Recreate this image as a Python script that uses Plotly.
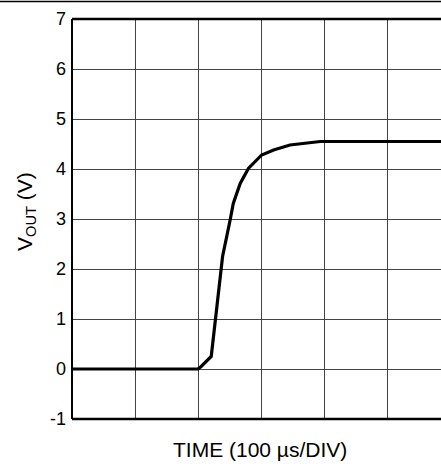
import plotly.graph_objects as go

# Time in divisions (100 us/DIV), Vout in volts
time_div = [0.0, 1.0, 2.0, 2.05, 2.21, 2.30, 2.39, 2.51, 2.56, 2.67, 2.80, 3.01, 3.20, 3.46, 3.94, 4.5, 5.0, 5.86]
vout = [0.0, 0.0, 0.0, 0.05, 0.25, 1.25, 2.25, 2.98, 3.31, 3.71, 4.01, 4.28, 4.38, 4.48, 4.55, 4.55, 4.55, 4.55]

y_ticks = [-1, 0, 1, 2, 3, 4, 5, 6, 7]
y_tick_labels = ["-1", "0", "1", "2", "3", "4", "5", "6", "7"]

fig = go.Figure()
fig.add_trace(go.Scatter(x=time_div, y=vout, mode="lines",
                         line=dict(color="black", width=3.2), showlegend=False))

fig.update_layout(
    width=441, height=464,
    margin=dict(l=72, r=0, t=19, b=45),
    plot_bgcolor="white", paper_bgcolor="white",
    font=dict(family="Liberation Sans, Arial, sans-serif", size=18, color="black"),
)
fig.update_xaxes(range=[0, (441 - 72) / 63], dtick=1, tick0=0, showgrid=True,
                 gridcolor="#444444", gridwidth=1.4, showticklabels=False,
                 zeroline=False, showline=False)
fig.update_yaxes(range=[-1, 7], tickvals=y_ticks, ticktext=y_tick_labels, showgrid=True,
                 gridcolor="#444444", gridwidth=1.4, zeroline=False,
                 showline=False, ticks="", ticklen=0, ticklabelstandoff=5,
                 tickfont=dict(size=18))

fig.add_annotation(text="TIME (100 µs/DIV)", xref="paper", yref="paper",
                   x=(260 - 72) / 369, y=-30 / 400, xanchor="center", yanchor="middle",
                   showarrow=False, font=dict(size=21))
fig.add_annotation(text="V<sub>OUT</sub> (V)", xref="paper", yref="paper",
                   x=-46/369, y=0.5 + 7/400, xanchor="center", yanchor="middle",
                   textangle=-90, showarrow=False, font=dict(size=21))

# plot frame: left, top, bottom (right edge cropped)
fig.add_shape(type="line", xref="paper", yref="paper", x0=0, x1=0, y0=0, y1=1,
              line=dict(color="black", width=2))
fig.add_shape(type="line", xref="paper", yref="paper", x0=0, x1=1, y0=1, y1=1,
              line=dict(color="black", width=2.5))
fig.add_shape(type="line", xref="paper", yref="paper", x0=0, x1=1, y0=0, y1=0,
              line=dict(color="black", width=2.5))
# thin rule at top of image
fig.add_shape(type="line", xref="paper", yref="paper", x0=-72/369, x1=1,
              y0=1 + 17.5/400, y1=1 + 17.5/400, line=dict(color="black", width=1.5))

fig.write_html("out.html", config={"displayModeBar": False},
               post_script="document.body.style.margin='0';")
